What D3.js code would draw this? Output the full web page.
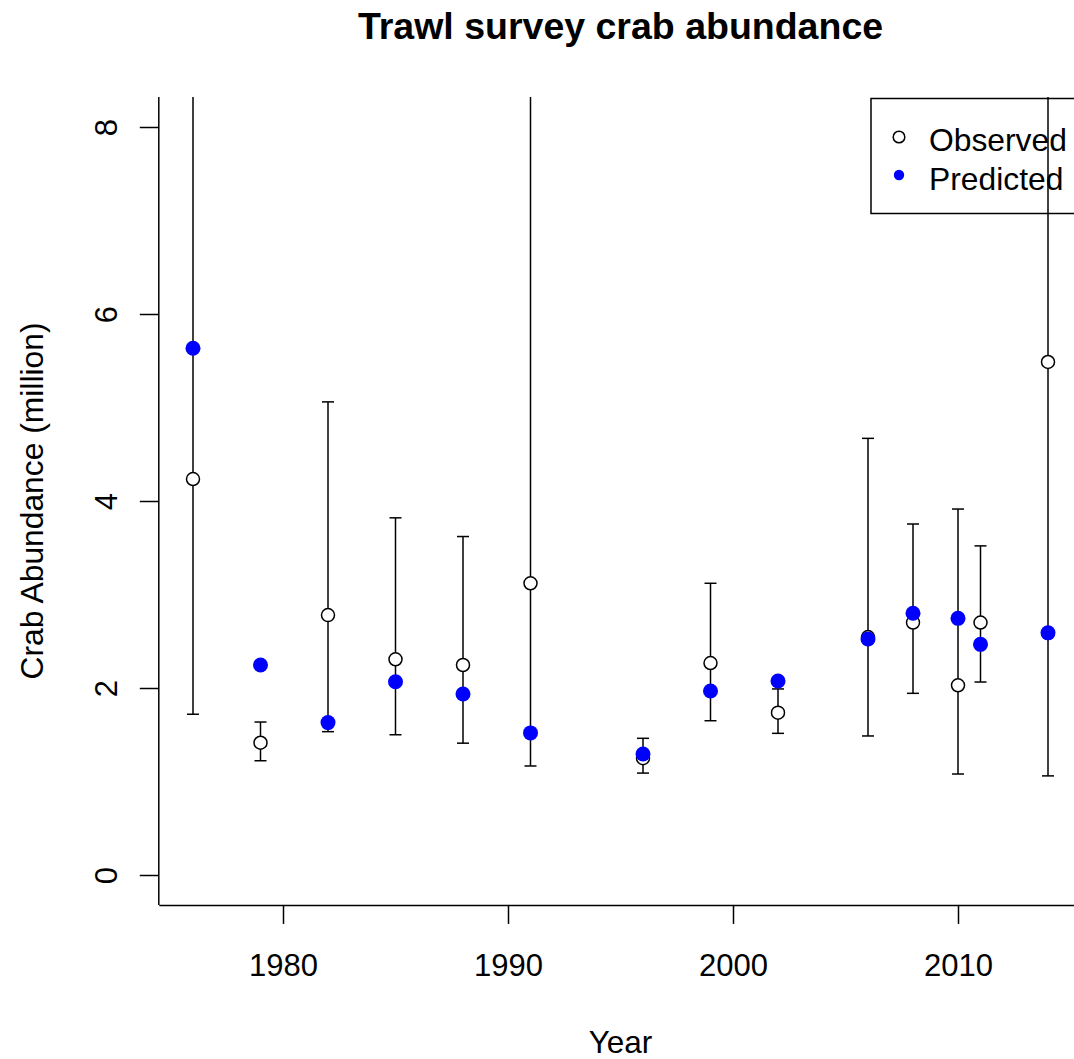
<!DOCTYPE html>
<html>
<head>
<meta charset="utf-8">
<script src="https://cdn.jsdelivr.net/npm/d3@7"></script>
<style>
  html, body { margin: 0; padding: 0; background: #fff; }
  svg { display: block; font-family: "Liberation Sans", Arial, Helvetica, sans-serif; }
</style>
</head>
<body>
<svg id="chart" width="1074" height="1059"></svg>
<script>
// Survey years and abundance estimates (millions of crabs)
const years     = [1976, 1979, 1982, 1985, 1988, 1991, 1996, 1999, 2002, 2006, 2008, 2010, 2011, 2014];
const observed  = [4.235, 1.415, 2.78, 2.307, 2.246, 3.12, 1.25, 2.267, 1.736, 2.545, 2.70, 2.029, 2.70, 5.487];
const predicted = [5.633, 2.246, 1.63, 2.067, 1.936, 1.52, 1.294, 1.968, 2.075, 2.524, 2.80, 2.745, 2.467, 2.59];
const lowerCI   = [1.72, 1.222, 1.533, 1.50, 1.41, 1.166, 1.09, 1.65, 1.515, 1.487, 1.943, 1.08, 2.064, 1.06];
const upperCI   = [10.4, 1.636, 5.06, 3.82, 3.62, 8.35, 1.462, 3.12, 1.99, 4.67, 3.754, 3.914, 3.52, 28.4];

const xTicks = [1980, 1990, 2000, 2010];
const yTicks = [0, 2, 4, 6, 8];

(function () {
const svg = d3.select("#chart");

// Scales: 4% padding either side of the data range, as in a base-R plot
const xPad = (2014 - 1976) * 0.04;
const xLo = 1976 - xPad, xHi = 2014 + xPad;
const xBase = d3.scaleLinear().domain([1980, 2010]).range([283, 958]);
const x = d3.scaleLinear().domain([xLo, xHi]).range([xBase(xLo), xBase(xHi)]);

const y = d3.scaleLinear().domain([0, 8]).range([875, 127]);
const yLo = -0.32, yHi = 8.32;

const pLeft = x(xLo), pRight = x(xHi), pTop = y(yHi), pBottom = y(yLo);

// Clip region for the plotting area
svg.append("defs").append("clipPath").attr("id", "plotClip")
  .append("rect")
  .attr("x", pLeft).attr("y", pTop)
  .attr("width", pRight - pLeft).attr("height", pBottom - pTop);

// Title
svg.append("text")
  .attr("x", (pLeft + pRight) / 2).attr("y", 39)
  .attr("text-anchor", "middle")
  .attr("font-size", 37.5).attr("font-weight", "bold")
  .text("Trawl survey crab abundance");

// Bottom axis
const xAxis = svg.append("g")
  .attr("transform", `translate(0,${pBottom})`)
  .call(d3.axisBottom(x).tickValues(xTicks).tickFormat(d3.format("d"))
        .tickSize(19).tickSizeOuter(0).tickPadding(30));
xAxis.select(".domain").attr("stroke-width", 1.5);
xAxis.selectAll(".tick line").attr("stroke-width", 1.5);
xAxis.selectAll(".tick text").attr("font-size", 31).attr("fill", "#000")
  .attr("font-family", null);

// Left axis with rotated tick labels
const yAxis = svg.append("g")
  .attr("transform", `translate(${pLeft},0)`)
  .call(d3.axisLeft(y).tickValues(yTicks).tickSize(19).tickSizeOuter(0).tickFormat(d3.format("d")));
yAxis.select(".domain").attr("d", `M0,${pTop}V${pBottom}`).attr("stroke-width", 1.5);
yAxis.selectAll(".tick line").attr("stroke-width", 1.5);
yAxis.selectAll(".tick text")
  .attr("font-size", 31).attr("fill", "#000").attr("font-family", null)
  .attr("x", null).attr("dy", null)
  .attr("text-anchor", "middle")
  .attr("transform", "translate(-42,0) rotate(-90)");

// Axis titles
svg.append("text")
  .attr("x", (pLeft + pRight) / 2).attr("y", 1053)
  .attr("text-anchor", "middle").attr("font-size", 31.5)
  .text("Year");
svg.append("text")
  .attr("transform", `translate(43,${(pTop + pBottom) / 2}) rotate(-90)`)
  .attr("text-anchor", "middle").attr("font-size", 31.8)
  .text("Crab Abundance (million)");

// Legend (no background fill)
const legend = svg.append("g");
legend.append("rect")
  .attr("x", 871).attr("y", 98.5).attr("width", pRight - 871).attr("height", 115)
  .attr("fill", "none").attr("stroke", "#000").attr("stroke-width", 1.5);
legend.append("circle").attr("cx", 899).attr("cy", 137).attr("r", 5.8)
  .attr("fill", "#fff").attr("stroke", "#000").attr("stroke-width", 1.5);
legend.append("circle").attr("cx", 899).attr("cy", 175).attr("r", 5.2)
  .attr("fill", "#0000ff");
legend.append("text").attr("x", 929).attr("y", 151).attr("font-size", 31.8).text("Observed");
legend.append("text").attr("x", 929).attr("y", 190).attr("font-size", 31.8).text("Predicted");

// Plot contents
const plot = svg.append("g").attr("clip-path", "url(#plotClip)");
const rows = years.map((yr, i) => ({
  yr, obs: observed[i], pred: predicted[i], lo: lowerCI[i], hi: upperCI[i]
}));

// Confidence intervals
const bars = plot.append("g").attr("stroke", "#000").attr("stroke-width", 1.5);
bars.selectAll("line.bar").data(rows).join("line").attr("class", "bar")
  .attr("x1", d => x(d.yr)).attr("x2", d => x(d.yr))
  .attr("y1", d => y(d.lo)).attr("y2", d => y(d.hi));
bars.selectAll("line.capLo").data(rows).join("line").attr("class", "capLo")
  .attr("x1", d => x(d.yr) - 6).attr("x2", d => x(d.yr) + 6)
  .attr("y1", d => y(d.lo)).attr("y2", d => y(d.lo));
bars.selectAll("line.capHi").data(rows).join("line").attr("class", "capHi")
  .attr("x1", d => x(d.yr) - 6).attr("x2", d => x(d.yr) + 6)
  .attr("y1", d => y(d.hi)).attr("y2", d => y(d.hi));

// Observed (open circles)
plot.append("g").selectAll("circle").data(rows).join("circle")
  .attr("cx", d => x(d.yr)).attr("cy", d => y(d.obs)).attr("r", 6.5)
  .attr("fill", "#fff").attr("stroke", "#000").attr("stroke-width", 1.5);

// Predicted (filled blue)
plot.append("g").selectAll("circle").data(rows).join("circle")
  .attr("cx", d => x(d.yr)).attr("cy", d => y(d.pred)).attr("r", 7.5)
  .attr("fill", "#0000ff");
})();
</script>
</body>
</html>
